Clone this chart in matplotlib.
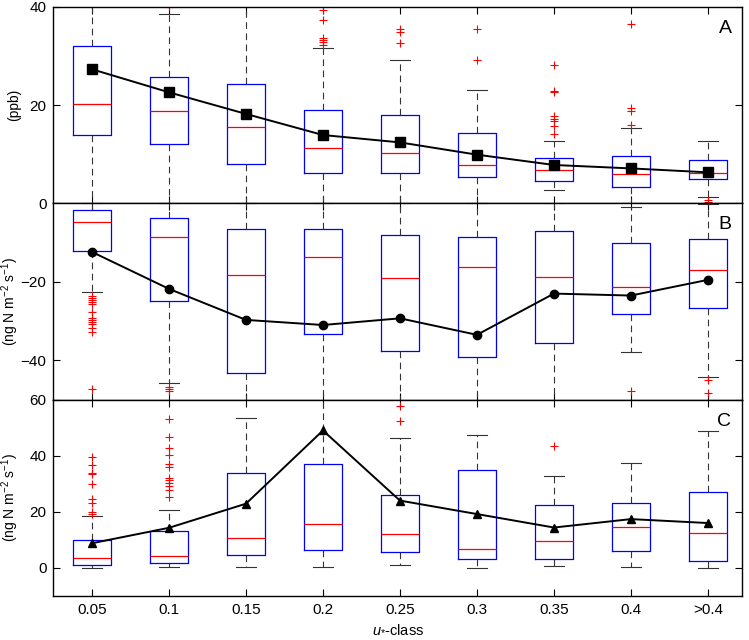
import matplotlib
matplotlib.use("Agg")
import matplotlib.pyplot as plt

plt.rcParams['font.family'] = ['Liberation Sans', 'DejaVu Sans']
plt.rcParams['mathtext.fontset'] = 'custom'
plt.rcParams['mathtext.rm'] = 'Liberation Sans'
plt.rcParams['mathtext.it'] = 'Liberation Sans:italic'

classes = ['0.05', '0.1', '0.15', '0.2', '0.25', '0.3', '0.35', '0.4', '>0.4']

# panel A: concentration (ppb)
a_q1 = [14.0, 12.1, 8.1, 6.1, 6.2, 5.4, 4.6, 3.4, 4.9]
a_med = [20.2, 18.7, 15.5, 11.2, 10.3, 7.8, 6.8, 5.9, 6.1]
a_q3 = [32.1, 25.8, 24.2, 18.9, 18.0, 14.4, 9.2, 9.6, 8.8]
a_lo = [0.0, 0.0, 0.0, 0.0, 0.0, 0.0, 2.8, 0.0, 1.2]
a_hi = [45.0, 38.6, 45.0, 31.7, 29.1, 23.0, 12.7, 15.4, 12.7]
a_mean = [27.3, 22.6, 18.2, 13.9, 12.4, 9.9, 7.8, 7.1, 6.3]
a_fliers = [[], [40.0], [], [39.3, 37.4, 33.7, 33.3, 32.9, 32.3],
            [35.5, 34.9, 32.7], [35.4, 29.2],
            [28.2, 22.8, 22.6, 17.7, 17.2, 16.7, 15.8, 14.2],
            [36.6, 19.5, 18.7, 16.0], [0.6, 0.3]]

# panel B: deposition flux
b_q1 = [-12.2, -24.9, -43.2, -33.3, -37.5, -39.2, -35.7, -28.2, -26.7]
b_med = [-4.7, -8.7, -18.3, -13.7, -19.1, -16.2, -18.9, -21.2, -16.9]
b_q3 = [-1.7, -3.8, -6.5, -6.6, -8.2, -8.5, -7.0, -10.0, -9.1]
b_lo = [-22.5, -45.8, -55.0, -55.0, -55.0, -55.0, -55.0, -37.9, -44.2]
b_hi = [0.0, 0.0, 0.0, 0.0, 0.0, 0.0, 0.0, -0.9, -0.3]
b_mean = [-12.4, -21.8, -29.7, -31.0, -29.3, -33.5, -23.0, -23.5, -19.5]
b_fliers = [[-23.6, -24.1, -24.6, -25.1, -25.6, -27.7, -29.2, -29.7, -30.2,
             -30.7, -31.7, -32.8, -47.2],
            [-46.9, -47.4, -47.9], [], [], [], [], [], [-47.9], [-45.0, -48.3]]

# panel C: emission flux
c_q1 = [1.0, 1.6, 4.6, 6.4, 5.8, 3.1, 3.3, 6.2, 2.4]
c_med = [3.7, 4.3, 10.5, 15.8, 12.1, 6.7, 9.5, 14.6, 12.6]
c_q3 = [10.0, 13.1, 33.7, 37.1, 26.1, 34.8, 22.6, 23.0, 27.1]
c_lo = [0.1, 0.2, 0.4, 0.3, 1.0, 0.0, 0.7, 0.5, 0.0]
c_hi = [18.6, 20.6, 53.5, 65.0, 46.4, 47.4, 32.8, 37.3, 48.8]
c_mean = [8.8, 14.3, 22.9, 49.0, 24.0, 19.2, 14.4, 17.4, 16.0]
c_fliers = [[39.5, 36.7, 33.8, 33.4, 29.9, 24.5, 23.3, 19.8, 19.4],
            [53.2, 46.7, 42.7, 40.2, 36.9, 36.0, 31.9, 31.2, 30.2, 29.1,
             27.7, 25.2],
            [], [], [57.8, 52.3], [], [43.6], [], []]

panels = [
    ('A', '(ppb)', (0, 40), [0, 20, 40], 's',
     a_q1, a_med, a_q3, a_lo, a_hi, a_mean, a_fliers),
    ('B', '(ng N m$^{-2}$ s$^{-1}$)', (-50, 0), [-40, -20], 'o',
     b_q1, b_med, b_q3, b_lo, b_hi, b_mean, b_fliers),
    ('C', '(ng N m$^{-2}$ s$^{-1}$)', (-10, 60), [0, 20, 40, 60], '^',
     c_q1, c_med, c_q3, c_lo, c_hi, c_mean, c_fliers),
]

fig = plt.figure(figsize=(7.49, 6.40), dpi=100)
left, width = 0.0714, 0.919
h = 0.3068
bottoms = [0.0688 + 2 * h, 0.0688 + h, 0.0688]
pos = list(range(1, len(classes) + 1))

for i, (tag, ylab, ylim, yt, mk, q1, med, q3, lo, hi, mean, fl) in enumerate(panels):
    ax = fig.add_axes([left, bottoms[i], width, h])
    stats = []
    for k in range(len(classes)):
        stats.append(dict(q1=q1[k], med=med[k], q3=q3[k], whislo=lo[k],
                          whishi=hi[k], fliers=fl[k], mean=mean[k]))
    ax.bxp(stats, positions=pos, widths=0.5, showmeans=False,
           boxprops=dict(color='blue', lw=0.9),
           medianprops=dict(color='red', lw=0.9),
           whiskerprops=dict(color='#333333', lw=0.8, linestyle=(0, (6, 4))),
           capprops=dict(color='#333333', lw=0.8),
           flierprops=dict(marker='+', markeredgecolor='red', markersize=6,
                           markeredgewidth=0.8, linestyle='none'))
    ax.plot(pos, mean, color='black', lw=1.4, marker=mk,
            markersize=6.5 if mk == 's' else 6, zorder=5)
    ax.set_xlim(0.5, 9.44)
    ax.set_ylim(*ylim)
    ax.set_yticks(yt)
    ax.set_xticks(pos)
    if i == 2:
        ax.set_xticklabels(classes)
        ax.set_xlabel(r'$u_{*}$-class', fontsize=10.5, labelpad=4)
    else:
        ax.set_xticklabels([])
    ax.tick_params(direction='in', top=True, right=True, length=5, width=0.8,
                   labelsize=11, pad=5)
    for s in ax.spines.values():
        s.set_linewidth(1.0)
    ax.set_ylabel(ylab, fontsize=10)
    ax.yaxis.set_label_coords(-0.047, 0.5)
    ax.text(0.985, 0.89, tag, transform=ax.transAxes, ha='right', va='center',
            fontsize=14)

plt.savefig('out.png', dpi=100)
